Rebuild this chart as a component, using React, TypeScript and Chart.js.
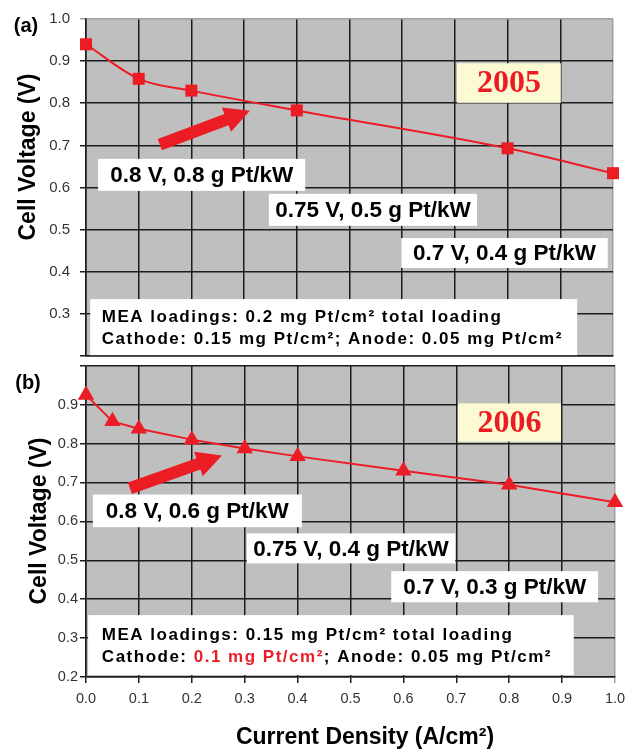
import React, { useEffect, useRef } from 'react';
import { Chart, registerables } from 'chart.js';

Chart.register(...registerables);

// ---------- data ----------
const currentDensity2005 = [0, 0.1, 0.2, 0.4, 0.8, 1.0];
const cellVoltage2005 = [0.94, 0.858, 0.83, 0.783, 0.693, 0.634];

const currentDensity2006 = [0, 0.05, 0.1, 0.2, 0.3, 0.4, 0.6, 0.8, 1.0];
const cellVoltage2006 = [0.925, 0.857, 0.838, 0.81, 0.787, 0.767, 0.73, 0.694, 0.649];

const xTickLabels = ['0.0', '0.1', '0.2', '0.3', '0.4', '0.5', '0.6', '0.7', '0.8', '0.9', '1.0'];
const yTickLabels2005 = ['0.3', '0.4', '0.5', '0.6', '0.7', '0.8', '0.9', '1.0'];
const yTickLabels2006 = ['0.2', '0.3', '0.4', '0.5', '0.6', '0.7', '0.8', '0.9'];

const panelLabels = ['(a)', '(b)'];
const yearLabels = ['2005', '2006'];
const operatingPoints2005 = ['0.8 V, 0.8 g Pt/kW', '0.75 V, 0.5 g Pt/kW', '0.7 V, 0.4 g Pt/kW'];
const operatingPoints2006 = ['0.8 V, 0.6 g Pt/kW', '0.75 V, 0.4 g Pt/kW', '0.7 V, 0.3 g Pt/kW'];
const meaLines2005 = [
  [{ t: 'MEA loadings: 0.2 mg Pt/cm² total loading', red: false }],
  [{ t: 'Cathode: 0.15 mg Pt/cm²; Anode: 0.05 mg Pt/cm²', red: false }],
];
const meaLines2006 = [
  [{ t: 'MEA loadings: 0.15 mg Pt/cm² total loading', red: false }],
  [
    { t: 'Cathode: ', red: false },
    { t: '0.1 mg Pt/cm²', red: true },
    { t: '; Anode: 0.05 mg Pt/cm²', red: false },
  ],
];
const yAxisTitle = 'Cell Voltage (V)';
const xAxisTitle = 'Current Density (A/cm²)';

// ---------- styles ----------
const RED = '#ec1c24';
const GRID = '#1c1c1c';
const EDGE = '#a0a0a0';
const PLOT_BG = '#c0bfc0';
const YEAR_BG = '#fcfad2';
const SANS = '"Liberation Sans", Arial, sans-serif';
const SERIF = '"Liberation Serif", "Times New Roman", serif';

type Box = { x0: number; x1: number; y0: number; y1: number };

type Panel = {
  xs: number[];
  ys: number[];
  yLabels: string[];
  pointStyle: string;
  pointRadius: number;
  monotone: boolean;
  showX: boolean;
  padding: { top: number; right: number; bottom: number; left: number };
  xAxisHeight: number;
  yTickPadding: number;
  yTickSize: number;
  topEdgeLight: boolean;
  label: string;
  labelPos: [number, number];
  yTitlePos: [number, number];
  xTitlePos: [number, number] | null;
  year: string;
  yearBox: Box;
  ops: string[];
  opBoxes: Box[];
  mea: { t: string; red: boolean }[][];
  meaBox: Box;
  meaTextX: number;
  meaLineY: number[];
  arrow: { x0: number; y0: number; x1: number; y1: number };
};

const panelA: Panel = {
  xs: currentDensity2005,
  ys: cellVoltage2005,
  yLabels: yTickLabels2005,
  pointStyle: 'rect',
  pointRadius: 8.5,
  monotone: true,
  showX: false,
  padding: { top: 15, right: 25, bottom: 0, left: 0 },
  xAxisHeight: 11,
  yTickPadding: 10,
  yTickSize: 15,
  topEdgeLight: true,
  label: panelLabels[0],
  labelPos: [26, 26],
  yTitlePos: [28.5, 157],
  xTitlePos: null,
  year: yearLabels[0],
  yearBox: { x0: 0.704, x1: 0.901, y0: 0.801, y1: 0.895 },
  ops: operatingPoints2005,
  opBoxes: [
    { x0: 0.023, x1: 0.416, y0: 0.592, y1: 0.668 },
    { x0: 0.347, x1: 0.742, y0: 0.509, y1: 0.585 },
    { x0: 0.598, x1: 0.99, y0: 0.409, y1: 0.48 },
  ],
  mea: meaLines2005,
  meaBox: { x0: 0.008, x1: 0.932, y0: 0.202, y1: 0.335 },
  meaTextX: 0.03,
  meaLineY: [0.292, 0.239],
  arrow: { x0: 0.14, y0: 0.702, x1: 0.311, y1: 0.782 },
};

const panelB: Panel = {
  xs: currentDensity2006,
  ys: cellVoltage2006,
  yLabels: yTickLabels2006,
  pointStyle: 'triangle',
  pointRadius: 9.5,
  monotone: false,
  showX: true,
  padding: { top: 10, right: 23, bottom: 0, left: 0 },
  xAxisHeight: 73,
  yTickPadding: 2,
  yTickSize: 14.5,
  topEdgeLight: false,
  label: panelLabels[1],
  labelPos: [28, 28],
  yTitlePos: [39.5, 166],
  xTitlePos: [365, 383],
  year: yearLabels[1],
  yearBox: { x0: 0.703, x1: 0.898, y0: 0.805, y1: 0.903 },
  ops: operatingPoints2006,
  opBoxes: [
    { x0: 0.013, x1: 0.408, y0: 0.585, y1: 0.669 },
    { x0: 0.304, x1: 0.698, y0: 0.492, y1: 0.569 },
    { x0: 0.577, x1: 0.968, y0: 0.392, y1: 0.472 },
  ],
  mea: meaLines2006,
  meaBox: { x0: 0.004, x1: 0.922, y0: 0.205, y1: 0.359 },
  meaTextX: 0.03,
  meaLineY: [0.308, 0.251],
  arrow: { x0: 0.083, y0: 0.685, x1: 0.257, y1: 0.769 },
};

function drawSpaced(ctx: CanvasRenderingContext2D, text: string, x: number, y: number, spacing: number) {
  let cx = x;
  for (const ch of Array.from(text)) {
    ctx.fillText(ch, cx, y);
    cx += ctx.measureText(ch).width + spacing;
  }
  return cx;
}

function makeDecorPlugin(p: Panel) {
  return {
    id: 'panelDecor',
    beforeDraw(chart: any) {
      const { ctx, chartArea: a } = chart;
      ctx.save();
      ctx.fillStyle = PLOT_BG;
      ctx.fillRect(a.left, a.top, a.right - a.left, a.bottom - a.top);
      ctx.restore();
    },
    afterDraw(chart: any) {
      const ctx: CanvasRenderingContext2D = chart.ctx;
      const xs = chart.scales.x;
      const ys = chart.scales.y;
      const px = (v: number) => xs.getPixelForValue(v);
      const py = (v: number) => ys.getPixelForValue(v);
      ctx.save();

      // arrow
      {
        const tx = px(p.arrow.x0), ty = py(p.arrow.y0);
        const hx = px(p.arrow.x1), hy = py(p.arrow.y1);
        const dx = hx - tx, dy = hy - ty;
        const L = Math.hypot(dx, dy);
        const ux = dx / L, uy = dy / L;
        const nx = -uy, ny = ux;
        const hl = 25, hw = 13, sw = 6;
        const bx = hx - ux * hl, by = hy - uy * hl;
        ctx.fillStyle = RED;
        ctx.beginPath();
        ctx.moveTo(tx + nx * sw, ty + ny * sw);
        ctx.lineTo(bx + nx * sw, by + ny * sw);
        ctx.lineTo(bx + nx * hw, by + ny * hw);
        ctx.lineTo(hx, hy);
        ctx.lineTo(bx - nx * hw, by - ny * hw);
        ctx.lineTo(bx - nx * sw, by - ny * sw);
        ctx.lineTo(tx - nx * sw, ty - ny * sw);
        ctx.closePath();
        ctx.fill();
      }

      // operating point boxes
      ctx.textAlign = 'center';
      ctx.textBaseline = 'middle';
      ctx.font = `bold 22.5px ${SANS}`;
      p.opBoxes.forEach((b, i) => {
        const l = px(b.x0), r = px(b.x1), t = py(b.y1), bt = py(b.y0);
        ctx.fillStyle = '#ffffff';
        ctx.fillRect(l, t, r - l, bt - t);
        ctx.fillStyle = '#000000';
        ctx.fillText(p.ops[i], (l + r) / 2, (t + bt) / 2 + 1);
      });

      // year box
      {
        const b = p.yearBox;
        const l = px(b.x0), r = px(b.x1), t = py(b.y1), bt = py(b.y0);
        ctx.fillStyle = YEAR_BG;
        ctx.fillRect(l, t, r - l, bt - t);
        ctx.fillStyle = RED;
        ctx.font = `bold 32px ${SERIF}`;
        ctx.fillText(p.year, (l + r) / 2, (t + bt) / 2 + 1);
      }

      // MEA box
      {
        const b = p.meaBox;
        const l = px(b.x0), r = px(b.x1), t = py(b.y1), bt = py(b.y0);
        ctx.fillStyle = '#ffffff';
        ctx.fillRect(l, t, r - l, bt - t);
        ctx.font = `bold 17px ${SANS}`;
        ctx.textAlign = 'left';
        p.mea.forEach((line, i) => {
          let x = px(p.meaTextX);
          const y = py(p.meaLineY[i]);
          line.forEach((seg) => {
            ctx.fillStyle = seg.red ? RED : '#000000';
            x = drawSpaced(ctx, seg.t, x, y, 1.5);
          });
        });
      }

      // panel label
      ctx.fillStyle = '#000000';
      ctx.textAlign = 'center';
      ctx.font = `bold 20px ${SANS}`;
      ctx.fillText(p.label, p.labelPos[0], p.labelPos[1]);

      // y axis title
      ctx.font = `bold 23px ${SANS}`;
      ctx.save();
      ctx.translate(p.yTitlePos[0], p.yTitlePos[1]);
      ctx.rotate(-Math.PI / 2);
      ctx.fillText(yAxisTitle, 0, 0);
      ctx.restore();

      // x axis title
      if (p.xTitlePos) {
        ctx.font = `bold 23px ${SANS}`;
        ctx.fillText(xAxisTitle, p.xTitlePos[0], p.xTitlePos[1]);
      }

      ctx.restore();
    },
  };
}

function makeConfig(p: Panel): any {
  const gridColorX = (c: any) => (c.tick && Math.abs(c.tick.value - 1) < 1e-6 ? EDGE : GRID);
  const gridColorY = (c: any) =>
    p.topEdgeLight && c.tick && Math.abs(c.tick.value - 1) < 1e-6 ? EDGE : GRID;
  return {
    type: 'line',
    data: {
      datasets: [
        {
          data: p.xs.map((x, i) => ({ x, y: p.ys[i] })),
          borderColor: RED,
          backgroundColor: RED,
          borderWidth: 2,
          pointStyle: p.pointStyle,
          pointRadius: p.pointRadius,
          pointBorderWidth: 0,
          pointBackgroundColor: RED,
          cubicInterpolationMode: p.monotone ? 'monotone' : 'default',
          tension: 0,
          clip: false,
        },
      ],
    },
    options: {
      responsive: false,
      animation: false,
      events: [],
      layout: { padding: p.padding },
      plugins: { legend: { display: false }, tooltip: { enabled: false } },
      scales: {
        x: {
          type: 'linear',
          min: 0,
          max: 1,
          ticks: {
            stepSize: 0.1,
            display: p.showX,
            padding: 7,
            color: '#333333',
            font: { family: SANS, size: 14.5 },
            callback: (v: any) => {
              const s = Number(v).toFixed(1);
              return xTickLabels.includes(s) ? s : '';
            },
          },
          grid: { color: gridColorX, lineWidth: 1.5, drawTicks: p.showX, tickLength: 6 },
          border: { color: GRID, width: 1.5 },
          afterFit: (s: any) => {
            s.height = p.xAxisHeight;
          },
        },
        y: {
          type: 'linear',
          min: 0.2,
          max: 1.0,
          ticks: {
            stepSize: 0.1,
            padding: p.yTickPadding,
            color: '#333333',
            font: { family: SANS, size: p.yTickSize },
            callback: (v: any) => {
              const s = Number(v).toFixed(1);
              return p.yLabels.includes(s) ? s : '';
            },
          },
          grid: { color: gridColorY, lineWidth: 1.5, drawTicks: true, tickLength: 6 },
          border: { color: GRID, width: 1.5 },
          afterFit: (s: any) => {
            s.width = 86;
          },
        },
      },
    },
    plugins: [makeDecorPlugin(p)],
  };
}

export default function App() {
  const topRef = useRef<HTMLCanvasElement>(null);
  const botRef = useRef<HTMLCanvasElement>(null);

  useEffect(() => {
    const c1 = new Chart(topRef.current as HTMLCanvasElement, makeConfig(panelA));
    const c2 = new Chart(botRef.current as HTMLCanvasElement, makeConfig(panelB));
    return () => {
      c1.destroy();
      c2.destroy();
    };
  }, []);

  return (
    <div style={{ position: 'absolute', left: 0, top: 0, width: 638, height: 750, background: '#ffffff' }}>
      <canvas
        ref={topRef}
        width={638}
        height={375}
        style={{ position: 'absolute', left: 0, top: 0, width: 638, height: 375 }}
      />
      <canvas
        ref={botRef}
        width={638}
        height={395}
        style={{ position: 'absolute', left: 0, top: 355, width: 638, height: 395 }}
      />
    </div>
  );
}
